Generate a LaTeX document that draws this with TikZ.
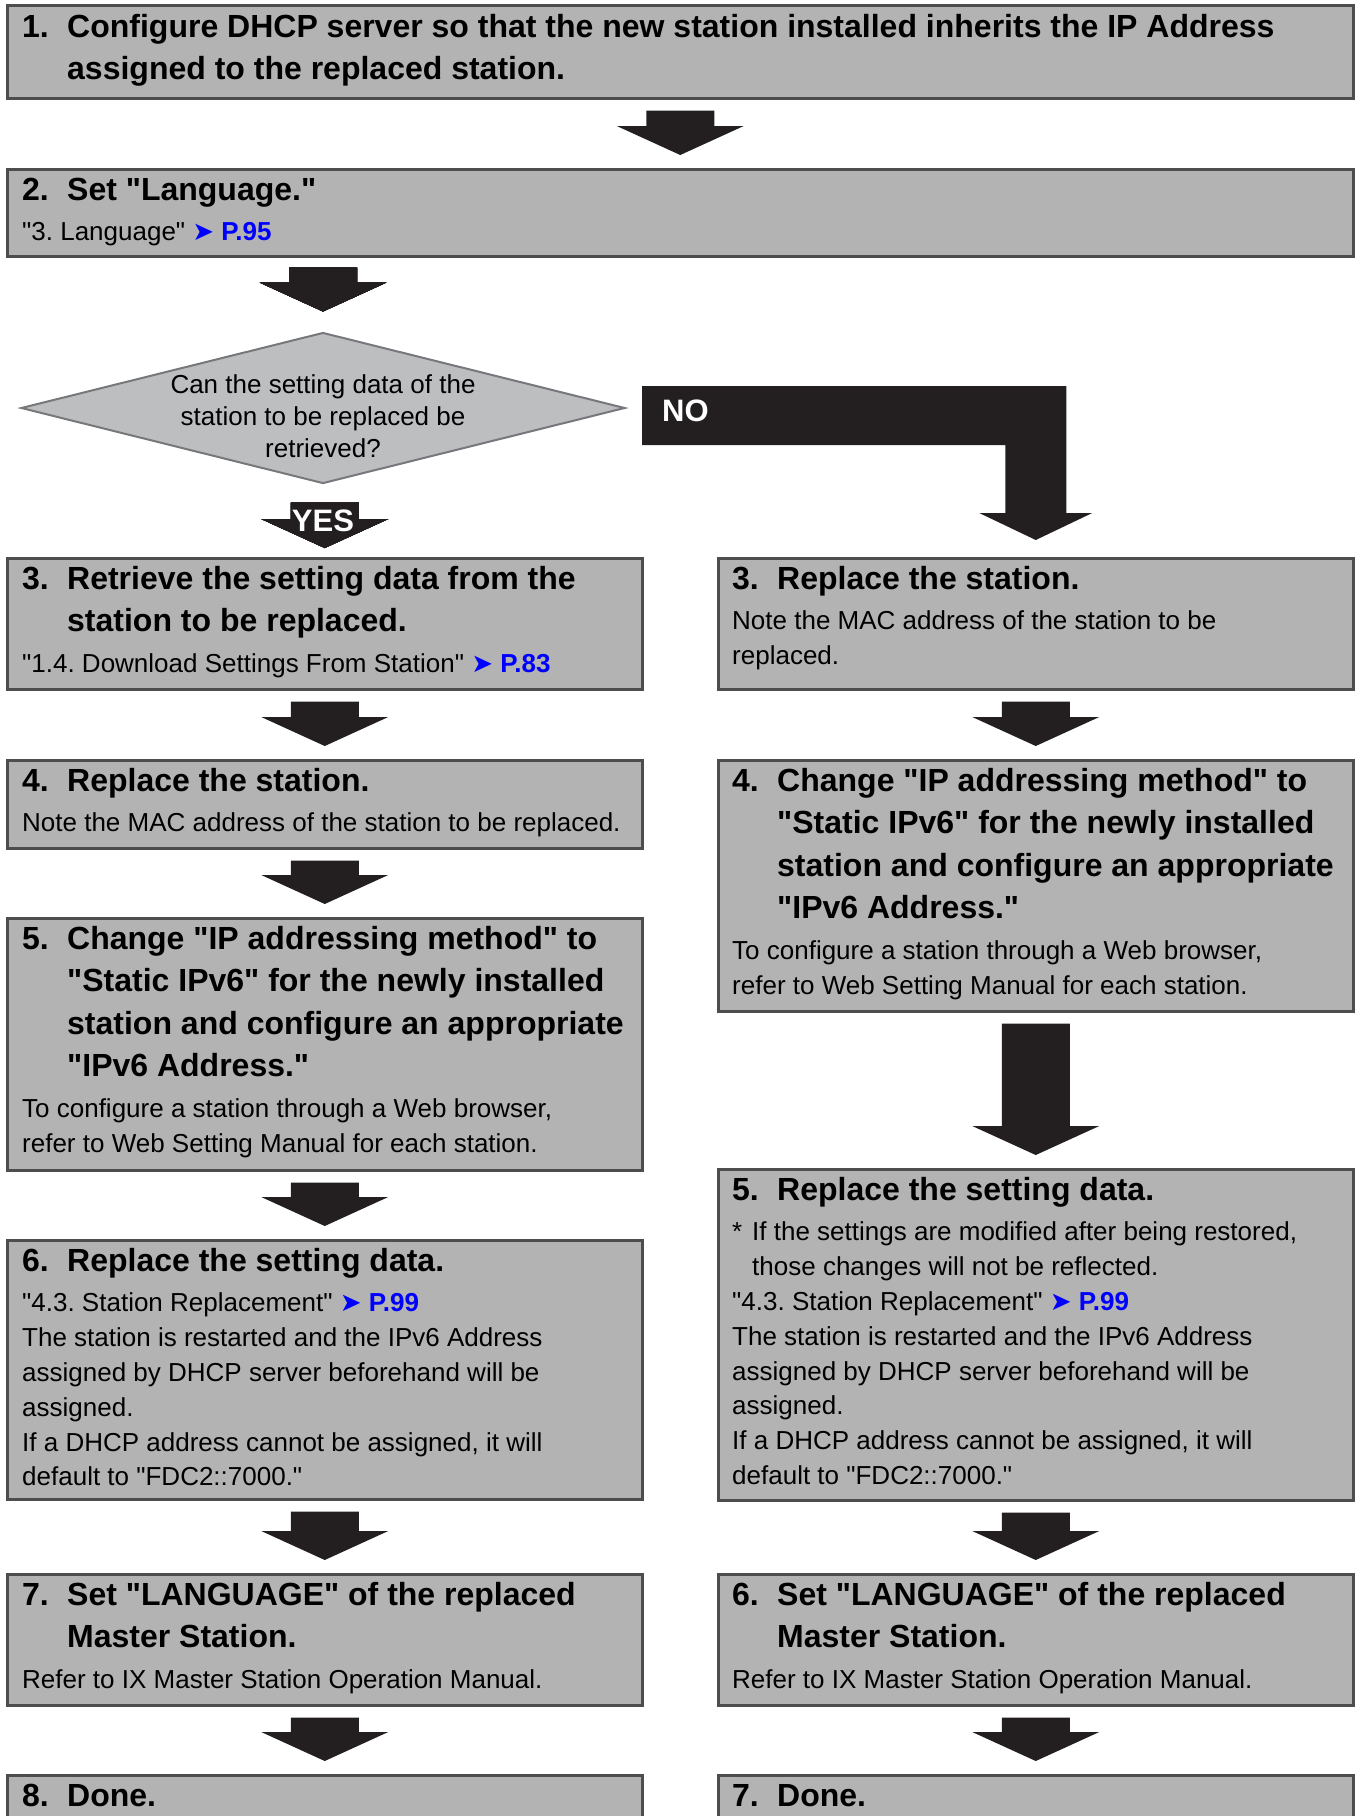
\documentclass[tikz,border=0pt]{standalone}
\usepackage{fontspec}
\setmainfont{Liberation Sans}[Ligatures=TeXOff]
\newfontfamily\symfont{DejaVu Sans}
\usetikzlibrary{calc,shapes.geometric}
\frenchspacing

\definecolor{boxgray}{HTML}{B3B3B3}
\definecolor{boxline}{HTML}{4D4D4D}
\definecolor{diagray}{HTML}{BCBEC0}
\definecolor{dialine}{HTML}{77787B}
\definecolor{arrowblack}{HTML}{231F20}
\definecolor{linkblue}{HTML}{0000FF}

\newlength\numw \setlength\numw{45pt}
\newcommand\titlefont{\fontsize{32}{42.5}\selectfont\bfseries}
\newcommand\bodyfont{\fontsize{26}{34.8}\selectfont}
\newcommand\steptitle[2]{{\titlefont\hangindent=\numw\hangafter=1
  \makebox[\numw][l]{#1}#2\par}}
\newcommand\stepbody[1]{{\bodyfont\vspace{6pt}#1\par}}
\newcommand\stepblock[2][605pt]{\parbox[t]{#1}{\rightskip=0pt plus 1fil\relax #2}}
\newcommand\seepage[1]{{\color{linkblue}{\symfont ➤} {\bfseries P.#1}}}
% fat arrow from box #1 down to box #2, gaps #3 (top) and #4 (tip)
\newcommand\fatarrow[4]{%
  \fill[arrowblack] ($(#1.south -| #2.north)+(-34,#3)$) -- ($(#1.south -| #2.north)+(34,#3)$)
    -- ($(#2.north)+(34,-#4-29)$) -- ($(#2.north)+(63.5,-#4-29)$) -- ($(#2.north)+(0,-#4)$)
    -- ($(#2.north)+(-63.5,-#4-29)$) -- ($(#2.north)+(-34,-#4-29)$) -- cycle;}

\begin{document}
\begin{tikzpicture}[x=1pt,y=-1pt,
  stepbox/.style={draw=boxline,fill=boxgray,line width=2.5pt,inner sep=0pt,
    anchor=north west,minimum width=635},
  steptext/.style={anchor=base west,inner sep=0pt},
  decision/.style={diamond,draw=dialine,fill=diagray,line width=2pt,
    minimum width=604,minimum height=151,inner sep=0pt},
  asktext/.style={align=center,inner sep=0pt,font=\fontsize{26}{32}\selectfont},
  flowlabel/.style={text=white,inner sep=0pt,font=\fontsize{31}{31}\selectfont\bfseries}]
  \useasboundingbox (0,0) rectangle (1361,1816);

  \node[stepbox,minimum width=1346,minimum height=93] (s1) at (6,4) {};
  \node[steptext] at ($(s1.north west)+(16,33)$) {\stepblock[1320pt]{%
    \steptitle{1.}{Configure DHCP server so that the new station installed inherits the IP Address\newline
      assigned to the replaced station.}}};

  \node[stepbox,minimum width=1346,minimum height=87] (s2) at (6,168) {};
  \node[steptext] at ($(s2.north west)+(16,32)$) {\stepblock[1320pt]{%
    \steptitle{2.}{Set "Language."}
    \stepbody{"3. Language" \seepage{95}}}};

  \node[decision] (q) at (323,408) {};
  \node[asktext] (qtext) at ($(q.center)+(0,8)$)
    {Can the setting data of the\\station to be replaced be\\retrieved?};

  % YES branch
  \node[stepbox,minimum height=131] (yes3) at (6,557) {};
  \node[steptext] at ($(yes3.north west)+(16,32)$) {\stepblock{%
    \steptitle{3.}{Retrieve the setting data from the\newline station to be replaced.}
    \stepbody{"1.4. Download Settings From Station" \seepage{83}}}};

  \node[stepbox,minimum height=88] (yes4) at (6,759) {};
  \node[steptext] at ($(yes4.north west)+(16,32)$) {\stepblock{%
    \steptitle{4.}{Replace the station.}
    \stepbody{Note the MAC address of the station to be replaced.}}};

  \node[stepbox,minimum height=252] (yes5) at (6,917) {};
  \node[steptext] at ($(yes5.north west)+(16,32)$) {\stepblock{%
    \steptitle{5.}{Change "IP addressing method" to\newline "Static IPv6" for the newly installed\newline
      station and configure an appropriate\newline "IPv6 Address."}
    \stepbody{To configure a station through a Web browser,\newline
      refer to Web Setting Manual for each station.}}};

  \node[stepbox,minimum height=259] (yes6) at (6,1239) {};
  \node[steptext] at ($(yes6.north west)+(16,32)$) {\stepblock{%
    \steptitle{6.}{Replace the setting data.}
    \stepbody{"4.3. Station Replacement" \seepage{99}\newline
      The station is restarted and the IPv6 Address\newline
      assigned by DHCP server beforehand will be\newline
      assigned.\newline
      If a DHCP address cannot be assigned, it will\newline
      default to "FDC2::7000."}}};

  \node[stepbox,minimum height=131] (yes7) at (6,1573) {};
  \node[steptext] at ($(yes7.north west)+(16,32)$) {\stepblock{%
    \steptitle{7.}{Set "LANGUAGE" of the replaced\newline Master Station.}
    \stepbody{Refer to IX Master Station Operation Manual.}}};

  \node[stepbox,minimum height=80] (yes8) at (6,1774) {};
  \node[steptext] at ($(yes8.north west)+(16,32)$) {\stepblock{\steptitle{8.}{Done.}}};

  % NO branch
  \node[stepbox,minimum height=131] (no3) at (717,557) {};
  \node[steptext] at ($(no3.north west)+(15,32)$) {\stepblock{%
    \steptitle{3.}{Replace the station.}
    \stepbody{Note the MAC address of the station to be\newline replaced.}}};

  \node[stepbox,minimum height=251] (no4) at (717,759) {};
  \node[steptext] at ($(no4.north west)+(15,32)$) {\stepblock{%
    \steptitle{4.}{Change "IP addressing method" to\newline "Static IPv6" for the newly installed\newline
      station and configure an appropriate\newline "IPv6 Address."}
    \stepbody{To configure a station through a Web browser,\newline
      refer to Web Setting Manual for each station.}}};

  \node[stepbox,minimum height=331] (no5) at (717,1168) {};
  \node[steptext] at ($(no5.north west)+(15,32)$) {\stepblock{%
    \steptitle{5.}{Replace the setting data.}
    \stepbody{\hangindent=20pt\hangafter=1\makebox[20pt][l]{*}If the settings are modified after being restored,\newline
      those changes will not be reflected.\par
      "4.3. Station Replacement" \seepage{99}\newline
      The station is restarted and the IPv6 Address\newline
      assigned by DHCP server beforehand will be\newline
      assigned.\newline
      If a DHCP address cannot be assigned, it will\newline
      default to "FDC2::7000."}}};

  \node[stepbox,minimum height=131] (no6) at (717,1573) {};
  \node[steptext] at ($(no6.north west)+(15,32)$) {\stepblock{%
    \steptitle{6.}{Set "LANGUAGE" of the replaced\newline Master Station.}
    \stepbody{Refer to IX Master Station Operation Manual.}}};

  \node[stepbox,minimum height=80] (no7) at (717,1774) {};
  \node[steptext] at ($(no7.north west)+(15,32)$) {\stepblock{\steptitle{7.}{Done.}}};

  % arrows
  \foreach \from/\to in {s1/s2,yes3/yes4,yes4/yes5,yes5/yes6,yes6/yes7,yes7/yes8,
                         no3/no4,no4/no5,no5/no6,no6/no7}
    \fatarrow{\from}{\to}{11}{13}
  \fatarrow{s2}{q}{10}{20}
  \fatarrow{q}{yes3}{18}{9}
  \node[flowlabel] (yes) at ($(q.south)+(0,36)$) {YES};

  \fill[arrowblack] ($(q.east)+(16,-22)$) -| ($(no3.north)+(30.5,-44)$)
    -- ($(no3.north)+(56.5,-44)$) -- ($(no3.north)+(0,-17)$)
    -- ($(no3.north)+(-56.5,-44)$) -- ($(no3.north)+(-30.5,-44)$)
    |- ($(q.east)+(16,37)$) -- cycle;
  \node[flowlabel,anchor=west] (no) at ($(q.east)+(36,3)$) {NO};
\end{tikzpicture}
\end{document}
